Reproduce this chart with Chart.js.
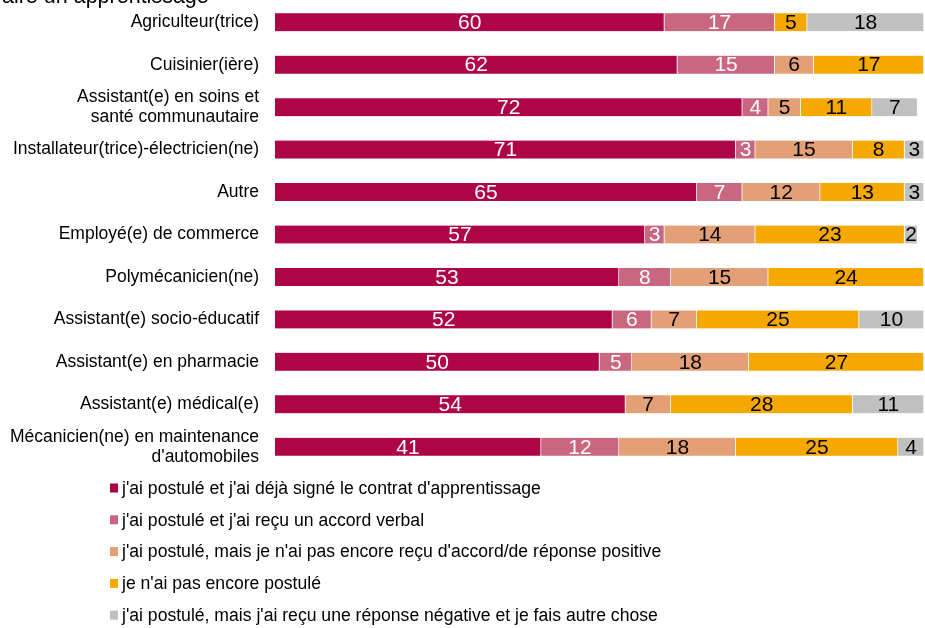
<!DOCTYPE html>
<html>
<head>
<meta charset="utf-8">
<script src="https://cdn.jsdelivr.net/npm/chart.js@4.4.1/dist/chart.umd.min.js"></script>
<style>
  html, body { margin: 0; padding: 0; background: #fff; }
  #wrap { width: 925px; height: 628px; }
</style>
</head>
<body>
<div id="wrap"><canvas id="apprChart"></canvas></div>
<script>
// professions, top to bottom
const categories = [
  'Agriculteur(trice)',
  'Cuisinier(ière)',
  ['Assistant(e) en soins et', 'santé communautaire'],
  'Installateur(trice)-électricien(ne)',
  'Autre',
  'Employé(e) de commerce',
  'Polymécanicien(ne)',
  'Assistant(e) socio-éducatif',
  'Assistant(e) en pharmacie',
  'Assistant(e) médical(e)',
  ['Mécanicien(ne) en maintenance', "d'automobiles"]
];

// values in %, same order as categories (null = no segment)
const signedValues   = [60, 62, 72, 71, 65, 57, 53, 52, 50, 54, 41];
const verbalValues   = [17, 15, 4, 3, 7, 3, 8, 6, 5, null, 12];
const pendingValues  = [null, 6, 5, 15, 12, 14, 15, 7, 18, 7, 18];
const notYetValues   = [5, 17, 11, 8, 13, 23, 24, 25, 27, 28, 25];
const negativeValues = [18, null, 7, 3, 3, 2, null, 10, null, 11, 4];

const seriesLabels = [
  "j'ai postulé et j'ai déjà signé le contrat d'apprentissage",
  "j'ai postulé et j'ai reçu un accord verbal",
  "j'ai postulé, mais je n'ai pas encore reçu d'accord/de réponse positive",
  "je n'ai pas encore postulé",
  "j'ai postulé, mais j'ai reçu une réponse négative et je fais autre chose"
];
const seriesColors = ['#AE0547', '#C96680', '#E39F76', '#F5A800', '#C0C0C0'];
const labelColors  = ['#ffffff', '#ffffff', '#000000', '#000000', '#000000'];

const FONT = "'Liberation Sans', Arial, sans-serif";

// value labels in the middle of each segment
const segmentLabels = {
  id: 'segmentLabels',
  afterDatasetsDraw(chart) {
    const ctx = chart.ctx;
    ctx.save();
    ctx.font = '21px ' + FONT;
    ctx.textAlign = 'center';
    ctx.textBaseline = 'middle';
    chart.data.datasets.forEach((ds, i) => {
      const meta = chart.getDatasetMeta(i);
      meta.data.forEach((bar, j) => {
        const v = ds.data[j];
        if (v == null) return;
        ctx.fillStyle = labelColors[i];
        ctx.fillText(String(v), (bar.x + bar.base) / 2, bar.y + 1);
      });
    });
    ctx.restore();
  }
};

// one legend item per line, left aligned under the chart
const stackedLegend = {
  id: 'stackedLegend',
  afterDraw(chart) {
    const ctx = chart.ctx;
    const top = chart.chartArea.bottom + 20;
    ctx.save();
    ctx.font = '17.6px ' + FONT;
    ctx.textAlign = 'left';
    ctx.textBaseline = 'middle';
    chart.data.datasets.forEach((ds, i) => {
      const y = top + i * 31.8;
      ctx.fillStyle = ds.backgroundColor;
      ctx.fillRect(110, y - 4.5, 8, 9);
      ctx.fillStyle = '#000';
      ctx.fillText(ds.label, 122, y + 1);
    });
    ctx.restore();
  }
};

// title line, mostly cut off at the top edge
const cutTitle = {
  id: 'cutTitle',
  afterDraw(chart) {
    const ctx = chart.ctx;
    ctx.save();
    ctx.font = '21.5px ' + FONT;
    ctx.fillStyle = '#000';
    ctx.textBaseline = 'alphabetic';
    ctx.fillText('faire un apprentissage', -4, 3);
    ctx.restore();
  }
};

const allValues = [signedValues, verbalValues, pendingValues, notYetValues, negativeValues];

new Chart(document.getElementById('apprChart'), {
  type: 'bar',
  data: {
    labels: categories,
    datasets: allValues.map((vals, i) => ({
      label: seriesLabels[i],
      data: vals,
      backgroundColor: seriesColors[i],
      borderColor: 'rgba(255,255,255,0.6)',
      borderWidth: { top: 0, bottom: 0, left: 0, right: 1 },
      borderSkipped: false,
      barThickness: 18
    }))
  },
  options: {
    indexAxis: 'y',
    responsive: true,
    maintainAspectRatio: false,
    animation: false,
    layout: { padding: { top: 1, right: 1, bottom: 160, left: 0 } },
    plugins: {
      legend: { display: false },
      tooltip: { enabled: false }
    },
    scales: {
      x: { stacked: true, min: 0, max: 100, display: false },
      y: {
        stacked: true,
        grid: { display: false, drawTicks: false },
        border: { display: false },
        ticks: {
          color: '#000',
          padding: 16,
          autoSkip: false,
          font: { family: FONT, size: 17.5, lineHeight: 1.15 }
        },
        afterFit(scale) {
          scale.width = 275;
          scale.paddingTop = 0;
          scale.paddingBottom = 0;
        }
      }
    }
  },
  plugins: [segmentLabels, stackedLegend, cutTitle]
});
</script>
</body>
</html>
